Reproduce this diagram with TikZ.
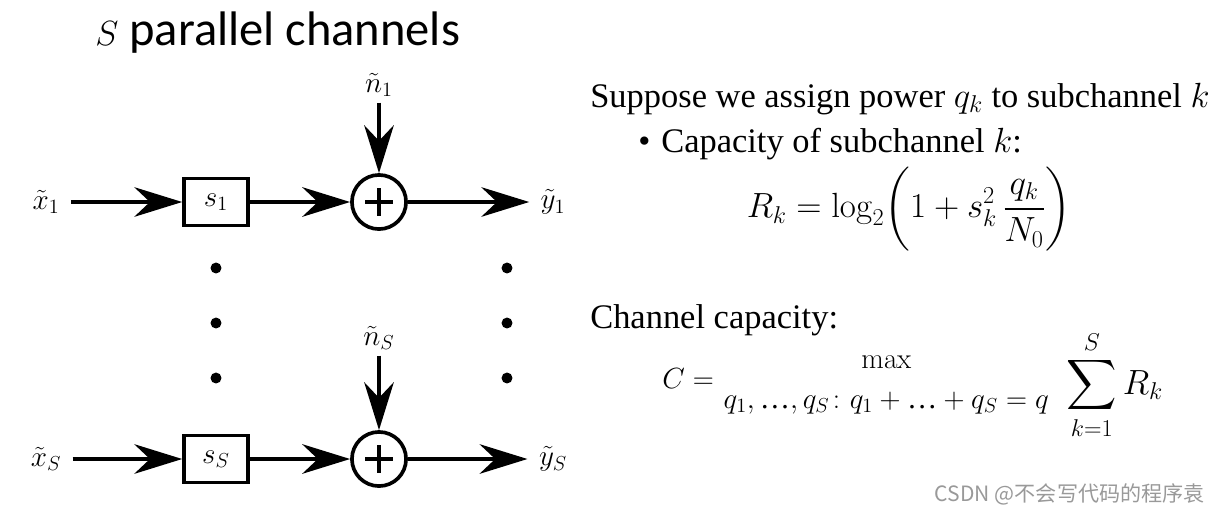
\documentclass[tikz,border=0pt]{standalone}
\usepackage[no-math]{fontspec}
\usepackage{amsmath}
\setmainfont{Liberation Serif}
\newfontfamily\titlefont{Carlito}
\newfontfamily\cjkfont{Noto Sans CJK SC}
\usetikzlibrary{arrows.meta,calc,positioning}
\newcommand\plusmark[1]{\draw[line width=2.9pt] ($(#1)+(-14,0)$) -- ($(#1)+(14,0)$) ($(#1)+(0,-14)$) -- ($(#1)+(0,14)$);}
\tikzset{
	sysbox/.style={draw, line width=2.6pt, minimum width=45.5pt, minimum height=33.4pt, inner sep=0pt, font=\fontsize{21}{25}\selectfont},
	adder/.style={draw, circle, line width=2.6pt, minimum size=38.5pt, inner sep=0pt},
	siglabel/.style={inner xsep=8pt, inner ysep=4pt, font=\fontsize{22}{26}\selectfont},
	sig/.style={line width=2.8pt, -{Stealth[length=34pt,width=21pt]}},
	rtext/.style={anchor=base west, inner sep=0pt, font=\fontsize{24.5}{29}\selectfont},
	rmath/.style={inner sep=0pt, font=\fontsize{21.5}{26}\selectfont},
}

\begin{document}
\begin{tikzpicture}[x=0.025cm, y=-0.025cm]
		%%%%% START %%%%%
		\useasboundingbox (0,0) rectangle (1220,515);
		
		\node[anchor=base west, inner sep=0pt, font=\titlefont\fontsize{34.5}{41}\selectfont] (title) at (95,45) {$S$ parallel channels};
		
		% the two channel rows
		\foreach \r/\y/\ny in {1/202/85, S/459/338} {
			\node[siglabel] (x\r) at (46,\y) {$\tilde{x}_{\r}$};
			\node[sysbox] (b\r) at (216,\y) {$s_{\r}$};
			\node[adder] (a\r) at (379,\y) {};
			\node[siglabel] (y\r) at (553,\y) {$\tilde{y}_{\r}$};
			\node[siglabel] (n\r) at (379,\ny) {$\tilde{n}_{\r}$};
			\plusmark{a\r}
			\draw[sig] (x\r) -- (b\r);
			\draw[sig] (b\r) -- (a\r);
			\draw[sig] (a\r) -- (y\r);
			\draw[sig] (n\r) -- (a\r);
		}
		
		% vertical dots
		\foreach \dy in {268,323,378} {
			\fill (216,\dy) circle (3.9pt);
			\fill (507,\dy) circle (3.9pt);
		}
		
		% right-hand text
		\node[rtext] (supp) at (590,107) {Suppose we assign power $q_k$ to subchannel $k$};
		\node[rtext] (bullet) at (638,152) {\textbullet};
		\node[rtext] (capk) at (661,152) {Capacity of subchannel $k$:};
		\node[rmath, font=\fontsize{23}{27}\selectfont] (rform) at (909,209) {$\displaystyle R_k =\log_2\biggl(1 + s_k^2\,\frac{q_k}{N_0}\biggr)$};
		
		\node[rtext] (chcap) at (590,328) {Channel capacity:};
		\node[rmath, anchor=west] (cform) at (662,385) {$\displaystyle C = \genfrac{}{}{0pt}{0}{\max}{q_1,\text{…},q_S\colon q_1+\text{…}+q_S=q}$};
		\node[rmath, right=11pt of cform, font=\fontsize{23}{27}\selectfont] (csum) {$\displaystyle\sum_{k=1}^{S} R_k$};
		
		\node[anchor=base east, inner sep=0pt, text=black!40, font=\cjkfont\fontsize{15}{18}\selectfont] (wmark) at (1205,501) {CSDN @不会写代码的程序袁};
		%%%%% END %%%%%
	\end{tikzpicture}
\end{document}
